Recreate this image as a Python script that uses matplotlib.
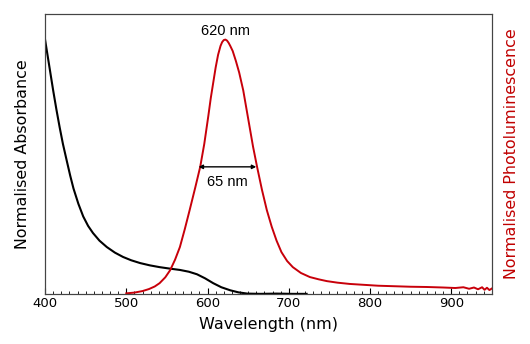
import numpy as np
import matplotlib
matplotlib.use("Agg")
import matplotlib.pyplot as plt
from matplotlib.ticker import MultipleLocator

# Absorbance (normalised)
abs_nm = [400, 405, 410, 414, 418, 422, 427, 431, 435, 441, 447, 453, 459, 467,
          476, 486, 496, 506, 517, 529, 541, 554, 566, 577, 587, 597, 607, 617,
          628, 638, 649, 665, 685, 705, 722]
abs_val = [1.0, 0.90, 0.80, 0.725, 0.655, 0.59, 0.52, 0.465, 0.415, 0.355, 0.305,
           0.268, 0.240, 0.210, 0.185, 0.163, 0.146, 0.133, 0.122, 0.113, 0.106,
           0.100, 0.095, 0.088, 0.078, 0.062, 0.043, 0.027, 0.015, 0.007, 0.002,
           0.001, 0.002, 0.001, 0.001]

# Photoluminescence (normalised)
pl_nm = [500, 510, 520, 528, 535, 541, 548, 554, 560, 566, 572, 578, 585, 591,
         596, 601, 604, 607, 610, 613, 616, 618, 620, 622, 624, 626, 628, 631,
         635, 639, 644, 650, 656, 661, 667, 673, 679, 685, 691, 698, 705, 715,
         726, 737, 747, 760, 775, 790, 810, 830, 850, 870, 890, 905, 915, 922,
         928, 933, 938, 941, 944, 947, 950]
pl_val = [0.003, 0.006, 0.012, 0.020, 0.030, 0.043, 0.066, 0.094, 0.135, 0.185,
          0.255, 0.33, 0.42, 0.50, 0.59, 0.70, 0.77, 0.83, 0.89, 0.94, 0.975, 0.99,
          0.998, 1.0, 0.996, 0.987, 0.975, 0.955, 0.915, 0.87, 0.80, 0.69, 0.58,
          0.50, 0.41, 0.33, 0.265, 0.21, 0.165, 0.130, 0.106, 0.083, 0.067, 0.058,
          0.051, 0.045, 0.040, 0.037, 0.033, 0.031, 0.029, 0.028, 0.026, 0.024,
          0.027, 0.021, 0.026, 0.019, 0.027, 0.017, 0.025, 0.016, 0.022]

peak_nm = 620
fwhm_lo, fwhm_hi = 589, 660

fig = plt.figure(figsize=(5.3, 3.44), dpi=100)
ax = fig.add_axes([0.085, 0.145, 0.843, 0.814])
ax2 = ax.twinx()

ax.plot(abs_nm, abs_val, color="black", lw=1.5)
ax2.plot(pl_nm, pl_val, color="#c8000a", lw=1.4)

for a in (ax, ax2):
    a.set_xlim(400, 950)
    a.set_ylim(0, 1.1)
    a.set_yticks([])
for s in ax.spines.values():
    s.set_color("#444444")
for s in ax2.spines.values():
    s.set_color("#444444")

ax.xaxis.set_major_locator(MultipleLocator(100))
ax.xaxis.set_minor_locator(MultipleLocator(10))
ax.tick_params(axis="x", which="major", direction="in", length=4, labelsize=9.5, pad=2)
ax.tick_params(axis="x", which="minor", direction="in", length=2)

ax.set_xlabel("Wavelength (nm)", fontsize=11.5, labelpad=5)
ax.set_ylabel("Normalised Absorbance", fontsize=11.4, labelpad=11)
ax2.set_ylabel("Normalised Photoluminescence", fontsize=11.4, color="#c00000", labelpad=9)

ax2.annotate("", xy=(fwhm_lo, 0.5), xytext=(fwhm_hi, 0.5),
             arrowprops=dict(arrowstyle="<|-|>", color="black", lw=1.0,
                             mutation_scale=6, shrinkA=0, shrinkB=0))
ax2.text(625, 0.44, "65 nm", ha="center", va="center", fontsize=10.5,
         family="Liberation Sans")
ax2.text(622, 1.035, f"{peak_nm} nm", ha="center", va="center", fontsize=10.5,
         family="Liberation Sans")

fig.savefig("out.png", dpi=100)
